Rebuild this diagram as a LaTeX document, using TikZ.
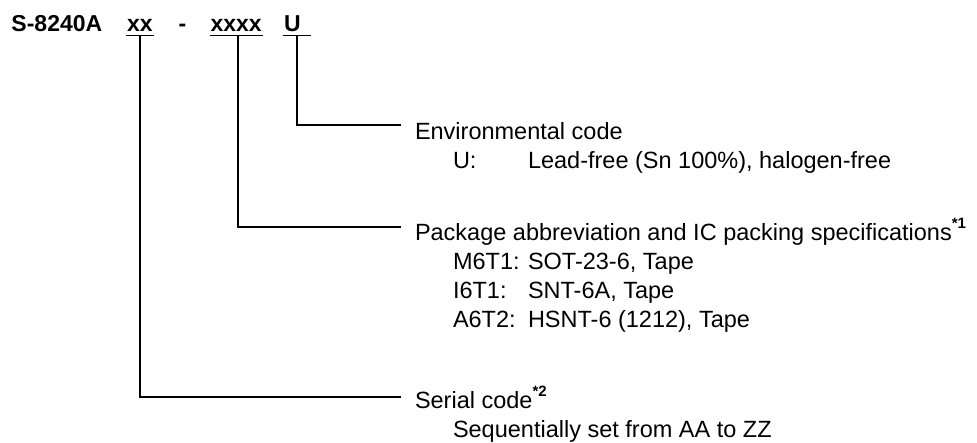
\documentclass[tikz,border=0pt]{standalone}
\usepackage{fontspec}
\setmainfont{Liberation Sans}
\newcommand{\supmark}[1]{\raisebox{11.5pt}{\fontsize{15}{15}\selectfont\bfseries #1}}
\begin{document}
\begin{tikzpicture}[x=1pt,y=-1pt,
  txt/.style={anchor=base west,inner sep=0pt,outer sep=0pt,font=\fontsize{23.5}{28}\selectfont},
  hdr/.style={anchor=base west,inner sep=0pt,outer sep=0pt,font=\bfseries\fontsize{23}{28}\selectfont},
  lead/.style={line width=1.8pt,line cap=rect},
  uline/.style={line width=1.8pt}]
\useasboundingbox (0,0) rectangle (977,442);
% part number fields
\node[hdr] (title) at (11.5,31.7) {S-8240A};
\node[hdr] (fxx)   at (127,31.7) {xx};
\node[hdr] (fdash) at (178.5,31.7) {-};
\node[hdr] (fxxxx) at (210.5,31.7) {xxxx};
\node[hdr] (fu)    at (284,31.7) {U};
% underlines
\coordinate (uxxl) at (126,35.5);   \coordinate (uxxr) at (154,35.5);
\coordinate (uxxxxl) at (210,35.5); \coordinate (uxxxxr) at (263,35.5);
\coordinate (uul) at (283,35.5);    \coordinate (uur) at (311,35.5);
\draw[uline] (uxxl) -- (uxxr);
\draw[uline] (uxxxxl) -- (uxxxxr);
\draw[uline] (uul) -- (uur);
% connector start and end points
\coordinate (jxx) at (140,35.5);
\coordinate (jxxxx) at (238.3,35.5);
\coordinate (ju) at (297,35.5);
\coordinate (eu) at (400,125);
\coordinate (exxxx) at (400,226.7);
\coordinate (exx) at (400,396.7);
\draw[lead] (ju) |- (eu);
\draw[lead] (jxxxx) |- (exxxx);
\draw[lead] (jxx) |- (exx);
% descriptions
\node[txt] (env)  at (415,139.5) {Environmental code};
\node[txt] (envk) at (453,168.5) {U:};
\node[txt] (envv) at (528,168.5) {Lead-free (Sn 100\%), halogen-free};
\node[txt] (pkg)  at (415,240) {Package abbreviation and IC packing specifications\supmark{*1}};
\node[txt] (pk1)  at (453,269) {M6T1:};
\node[txt] (pv1)  at (528,269) {SOT-23-6, Tape};
\node[txt] (pk2)  at (453,298) {I6T1:};
\node[txt] (pv2)  at (528,298) {SNT-6A, Tape};
\node[txt] (pk3)  at (453,327) {A6T2:};
\node[txt] (pv3)  at (528,327) {HSNT-6 (1212), Tape};
\node[txt] (ser)  at (415,408) {Serial code\supmark{*2}};
\node[txt] (serv) at (453,437) {Sequentially set from AA to ZZ};
\end{tikzpicture}
\end{document}
